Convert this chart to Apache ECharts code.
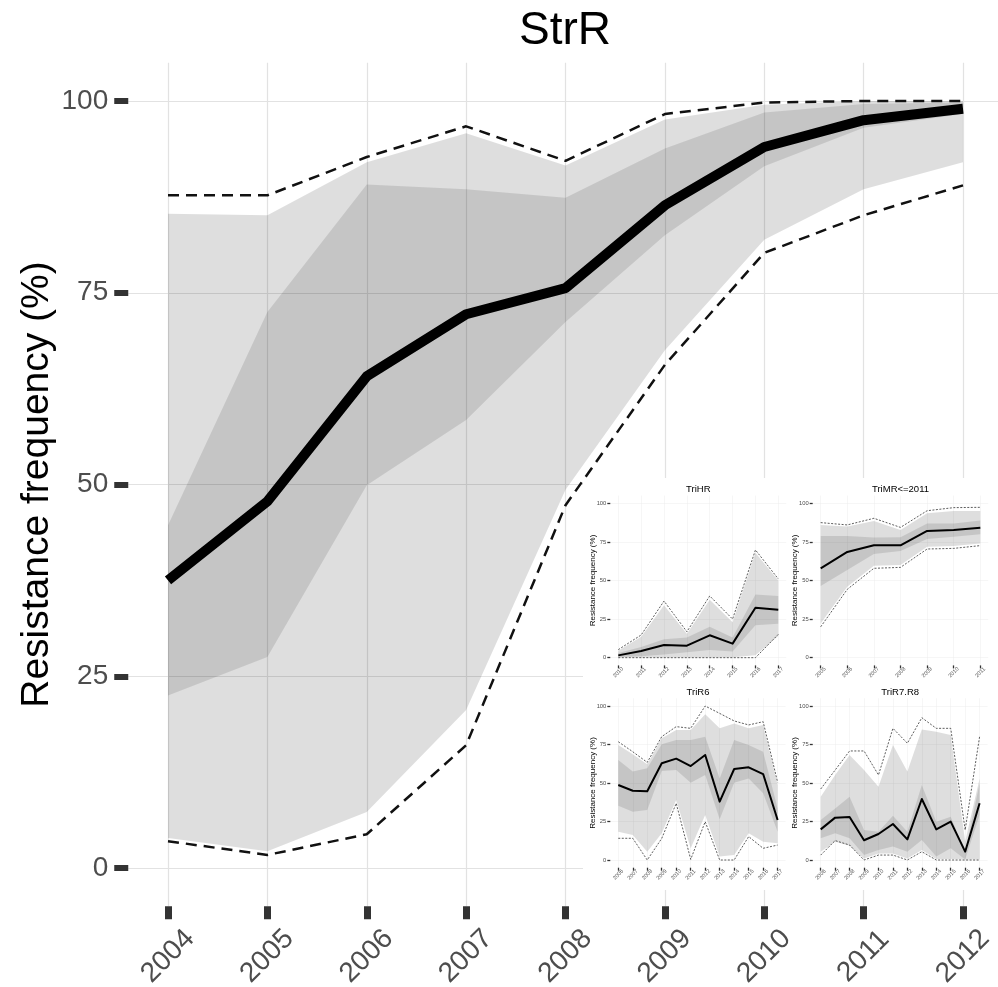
<!DOCTYPE html>
<html>
<head>
<meta charset="utf-8">
<script src="https://cdn.jsdelivr.net/npm/echarts@6/dist/echarts.min.js"></script>
<style>html,body{margin:0;padding:0;background:#fff}#c{width:998px;height:987px}</style>
</head>
<body>
<div id="c"></div>
<script>
// ---------- DATA ----------
const strrYears = [2004, 2005, 2006, 2007, 2008, 2009, 2010, 2011, 2012];
const strrMedian = [37.5, 47.8, 64.1, 72.2, 75.6, 86.4, 94.0, 97.5, 99.0];
const strrDashHi = [87.7, 87.7, 92.7, 96.7, 92.2, 98.3, 99.8, 100, 100];
const strrDashLo = [3.5, 1.7, 4.4, 16.0, 47.3, 65.6, 80.2, 85.1, 89.0];
const strrOuterHi = [85.3, 85.1, 92.0, 95.8, 91.6, 97.6, 99.5, 100, 100];
const strrOuterLo = [3.9, 2.2, 7.3, 20.6, 49.3, 67.5, 81.9, 88.5, 92.0];
const strrInnerHi = [44.7, 72.5, 89.1, 88.5, 87.4, 93.8, 98.5, 99.6, 99.8];
const strrInnerLo = [22.5, 27.5, 49.9, 58.4, 71.2, 82.5, 91.5, 96.5, 98.3];

const trihrYears = [2010, 2011, 2012, 2013, 2014, 2015, 2016, 2017];
const trihrMedian = [1.5, 4.3, 8.2, 7.8, 14.5, 9.1, 32.4, 31.1];
const trihrDashHi = [5.2, 14.7, 36.7, 16.8, 40.0, 25.0, 69.8, 51.0];
const trihrDashLo = [0, 0, 0, 0, 0, 0, 0, 15.1];
const trihrOuterHi = [4.5, 13.5, 34.0, 15.5, 37.5, 23.0, 68.0, 50.0];
const trihrOuterLo = [0.3, 0.3, 0.3, 0.3, 0.3, 0.3, 1.5, 14.0];
const trihrInnerHi = [3.0, 7.0, 12.0, 13.0, 20.0, 13.0, 41.0, 40.0];
const trihrInnerLo = [0.5, 1.0, 2.0, 3.5, 5.0, 4.0, 21.0, 22.0];

const trimrYears = [2005, 2006, 2007, 2008, 2009, 2010, 2011];
const trimrMedian = [57.9, 68.5, 72.8, 72.8, 82.1, 82.7, 84.2];
const trimrDashHi = [87.5, 86.0, 90.3, 84.4, 95.2, 97.2, 97.4];
const trimrDashLo = [20.0, 44.3, 57.9, 58.5, 70.4, 70.8, 72.6];
const trimrOuterHi = [86.0, 85.0, 88.6, 82.7, 93.5, 95.0, 95.0];
const trimrOuterLo = [22.2, 46.0, 59.6, 60.0, 71.9, 72.4, 74.0];
const trimrInnerHi = [78.8, 78.8, 77.8, 78.0, 87.0, 87.0, 88.8];
const trimrInnerLo = [46.4, 56.8, 67.2, 69.1, 76.9, 78.4, 79.9];

const trir6Years = [2006, 2007, 2008, 2009, 2010, 2011, 2012, 2013, 2014, 2015, 2016, 2017];
const trir6Median = [48.7, 45.0, 44.6, 62.8, 65.8, 61.0, 68.2, 37.9, 59.1, 60.2, 55.8, 26.0];
const trir6DashHi = [76.8, 70.3, 63.4, 80.1, 86.6, 85.5, 100, 95.2, 90.3, 87.7, 89.8, 50.4];
const trir6DashLo = [14.1, 14.1, 0, 14.0, 36.8, 0.4, 24.9, 0, 0, 15.2, 7.6, 9.7];
const trir6OuterHi = [74.7, 68.6, 62.1, 79.0, 84.4, 84.4, 94.6, 85.5, 88.7, 85.5, 87.7, 48.7];
const trir6OuterLo = [18.4, 16.2, 5.4, 17.3, 39.0, 7.6, 29.2, 2.2, 3.2, 17.3, 11.9, 10.8];
const trir6InnerHi = [64.9, 57.4, 59.5, 75.1, 77.9, 77.9, 80.1, 53.0, 77.9, 74.7, 70.3, 33.5];
const trir6InnerLo = [35.3, 31.4, 32.5, 57.8, 58.4, 50.2, 55.2, 26.4, 50.2, 53.0, 43.3, 18.4];

const trir78Years = [2006, 2007, 2008, 2009, 2010, 2011, 2012, 2013, 2014, 2015, 2016, 2017];
const trir78Median = [19.9, 27.5, 27.9, 12.8, 16.9, 23.4, 13.4, 39.6, 19.9, 24.9, 5.4, 36.8];
const trir78DashHi = [46.1, 58.4, 70.8, 70.8, 55.2, 85.5, 75.8, 92.4, 85.5, 85.5, 19.5, 80.1];
const trir78DashLo = [3.2, 12.6, 9.7, 0, 3.2, 3.2, 0, 5.4, 0, 0, 0, 0];
const trir78OuterHi = [41.1, 55.2, 68.2, 58.4, 47.6, 74.7, 57.4, 84.8, 83.3, 81.2, 12.0, 53.0];
const trir78OuterLo = [5.4, 11.9, 9.3, 1.0, 4.3, 4.3, 1.0, 6.5, 0.6, 0.6, 0.4, 0.4];
const trir78InnerHi = [26.0, 33.5, 41.1, 19.5, 18.4, 28.8, 18.4, 48.7, 24.9, 28.1, 5.4, 49.8];
const trir78InnerLo = [14.1, 17.3, 14.1, 3.2, 6.5, 8.7, 5.4, 13.0, 2.2, 7.6, 0.4, 29.2];

const yTicks = [0, 25, 50, 75, 100];
const mainTitle = 'StrR';
const yName = 'Resistance frequency (%)';
const insetTitles = ['TriHR', 'TriMR<=2011', 'TriR6', 'TriR7.R8'];

// ---------- BUILD ----------
const FONT = '"Liberation Sans", Arial, Helvetica, sans-serif';
const LIGHT = 'rgba(0,0,0,0.13)';
const DARK = 'rgba(0,0,0,0.11)';

const panels = [
  {years: strrYears, med: strrMedian, dh: strrDashHi, dl: strrDashLo, oh: strrOuterHi, ol: strrOuterLo, ih: strrInnerHi, il: strrInnerLo,
   grid: {left: 128.25, right: -4.75, top: 62.65, bottom: 80.65}, xmin: 2003.6, xmax: 2012.4, main: true},
  {years: trihrYears, med: trihrMedian, dh: trihrDashHi, dl: trihrDashLo, oh: trihrOuterHi, ol: trihrOuterLo, ih: trihrInnerHi, il: trihrInnerLo,
   grid: {left: 610.3, width: 176, top: 495.6, height: 169.8}, xmin: 2009.65, xmax: 2017.35},
  {years: trimrYears, med: trimrMedian, dh: trimrDashHi, dl: trimrDashLo, oh: trimrOuterHi, ol: trimrOuterLo, ih: trimrInnerHi, il: trimrInnerLo,
   grid: {left: 812.7, width: 175.6, top: 495.6, height: 169.8}, xmin: 2004.7, xmax: 2011.3},
  {years: trir6Years, med: trir6Median, dh: trir6DashHi, dl: trir6DashLo, oh: trir6OuterHi, ol: trir6OuterLo, ih: trir6InnerHi, il: trir6InnerLo,
   grid: {left: 610.3, width: 175.3, top: 698.3, height: 169.4}, xmin: 2005.45, xmax: 2017.55},
  {years: trir78Years, med: trir78Median, dh: trir78DashHi, dl: trir78DashLo, oh: trir78OuterHi, ol: trir78OuterLo, ih: trir78InnerHi, il: trir78InnerLo,
   grid: {left: 812.75, width: 174.8, top: 698.3, height: 169.4}, xmin: 2005.45, xmax: 2017.55}
];

const grids = [], xAxes = [], yAxes = [], series = [];
const pair = (ys, vs) => ys.map((y, i) => [y, vs[i]]);

function ribbon(idx, years, lo, hi, fill, z) {
  return {
    type: 'custom', xAxisIndex: idx, yAxisIndex: idx, z: z, silent: true, animation: false,
    data: years.map((y, i) => [y, lo[i], hi[i]]),
    encode: {x: 0, y: [1, 2]},
    renderItem: function (params, api) {
      if (params.dataIndex !== 0) return null;
      const n = years.length, pts = [];
      for (let i = 0; i < n; i++) pts.push(api.coord([years[i], hi[i]]));
      for (let i = n - 1; i >= 0; i--) pts.push(api.coord([years[i], lo[i]]));
      return {type: 'polygon', shape: {points: pts}, style: {fill: fill, stroke: null}};
    }
  };
}

panels.forEach((p, idx) => {
  const m = !!p.main;
  const zb = m ? 0 : 60;
  grids.push(Object.assign({outerBoundsMode: 'none', containLabel: false, show: false}, p.grid));
  xAxes.push({
    type: 'value', gridIndex: idx, min: p.xmin, max: p.xmax, z: zb,
    axisLine: {show: false, onZero: false},
    axisTick: {show: true, customValues: p.years, length: m ? 13 : 3, lineStyle: {color: '#333', width: m ? 7 : 1.3}},
    axisLabel: {customValues: p.years, rotate: 45, align: 'center', verticalAlign: 'middle',
      fontSize: m ? 28 : 5.5, color: '#4d4d4d', margin: m ? 50 : 7,
      fontFamily: FONT, formatter: v => String(v)},
    splitLine: {show: true, lineStyle: {color: m ? '#e2e2e2' : '#ececec', width: m ? 1.2 : 0.5}}
  });
  yAxes.push({
    type: 'value', gridIndex: idx, min: -5, max: 105, z: zb,
    axisLine: {show: false, onZero: false},
    axisTick: {show: true, customValues: yTicks, length: m ? 14 : 3, lineStyle: {color: '#333', width: m ? 6 : 1.3}},
    axisLabel: {customValues: yTicks, fontSize: m ? 28 : 5.8, color: '#4d4d4d', margin: m ? 20 : 4, fontFamily: FONT},
    splitLine: {show: true, lineStyle: {color: m ? '#e2e2e2' : '#ececec', width: m ? 1.2 : 0.5}},
    name: yName, nameLocation: 'middle', nameRotate: 90, nameGap: m ? 72 : 14, nameMoveOverlap: false,
    nameTextStyle: {fontSize: m ? 39 : 8, color: '#000', fontFamily: FONT}
  });
  const base = {type: 'line', xAxisIndex: idx, yAxisIndex: idx, symbol: 'none', silent: true, animation: false};
  const sz = m ? 2 : 62;
  series.push(ribbon(idx, p.years, p.ol, p.oh, LIGHT, sz));
  series.push(ribbon(idx, p.years, p.il, p.ih, DARK, sz + 1));
  const dashStyle = m ? {color: '#111', width: 2.5, type: [11, 7]} : {color: '#333', width: 0.8, type: [2, 1.5]};
  series.push(Object.assign({}, base, {data: pair(p.years, p.dh), lineStyle: dashStyle, z: sz + 2}));
  series.push(Object.assign({}, base, {data: pair(p.years, p.dl), lineStyle: dashStyle, z: sz + 2}));
  series.push(Object.assign({}, base, {data: pair(p.years, p.med), lineStyle: {color: '#000', width: m ? 10 : 2, join: 'round'}, z: sz + 3}));
});

const tfont = '9.5px ' + FONT;
const graphics = [
  {type: 'rect', shape: {x: 583, y: 478, width: 415, height: 412}, style: {fill: '#fff'}, z: 50, silent: true},
  {type: 'text', x: 565, y: 31, z: 70, style: {text: mainTitle, font: '46px ' + FONT, fill: '#000', textAlign: 'center', textVerticalAlign: 'middle'}},
  {type: 'text', x: 698.3, y: 489, z: 70, style: {text: insetTitles[0], font: tfont, fill: '#000', textAlign: 'center', textVerticalAlign: 'middle'}},
  {type: 'text', x: 900.5, y: 489, z: 70, style: {text: insetTitles[1], font: tfont, fill: '#000', textAlign: 'center', textVerticalAlign: 'middle'}},
  {type: 'text', x: 698, y: 692.3, z: 70, style: {text: insetTitles[2], font: tfont, fill: '#000', textAlign: 'center', textVerticalAlign: 'middle'}},
  {type: 'text', x: 900.2, y: 692.3, z: 70, style: {text: insetTitles[3], font: tfont, fill: '#000', textAlign: 'center', textVerticalAlign: 'middle'}}
];

const chart = echarts.init(document.getElementById('c'), null, {renderer: 'canvas'});
chart.setOption({
  animation: false,
  backgroundColor: '#fff',
  textStyle: {fontFamily: FONT},
  grid: grids, xAxis: xAxes, yAxis: yAxes, series: series,
  graphic: graphics
});
</script>
</body>
</html>
